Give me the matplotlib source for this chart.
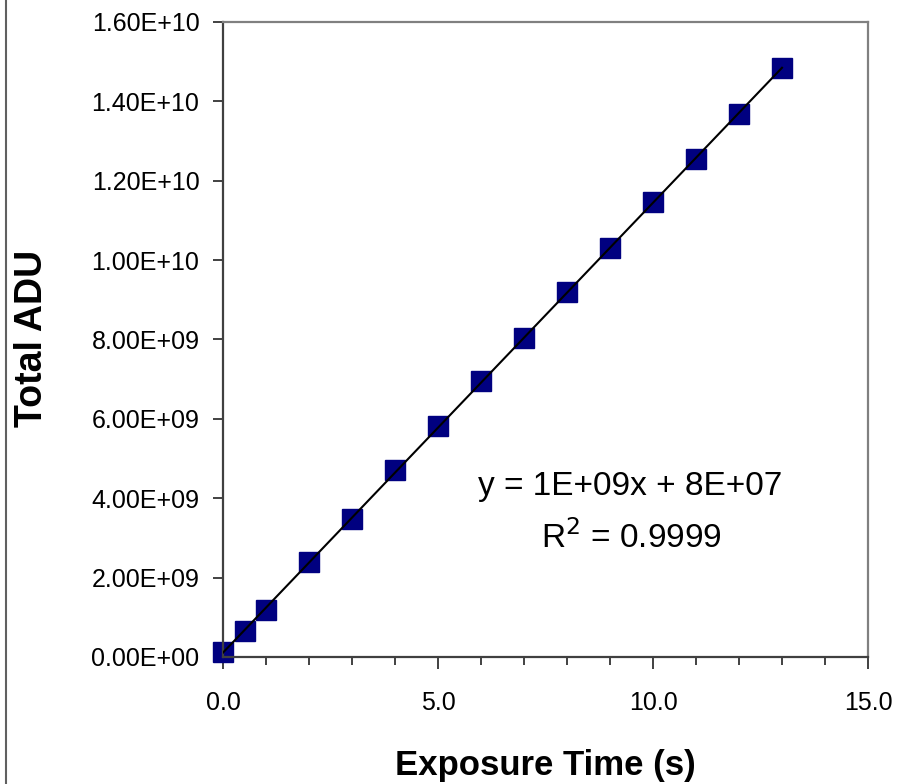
import numpy as np
import matplotlib
matplotlib.use('Agg')
import matplotlib.pyplot as plt
from matplotlib.lines import Line2D
from matplotlib.ticker import FuncFormatter, MultipleLocator

plt.rcParams['font.family'] = ['Liberation Sans', 'DejaVu Sans']

# exposure time (s) and total ADU
exposure = [0, 0.5, 1, 2, 3, 4, 5, 6, 7, 8, 9, 10, 11, 12, 13]
total_adu = [0.12e9, 0.65e9, 1.18e9, 2.39e9, 3.48e9, 4.71e9, 5.82e9, 6.95e9,
             8.04e9, 9.20e9, 10.30e9, 11.47e9, 12.55e9, 13.67e9, 14.85e9]
eq_text = 'y = 1E+09x + 8E+07'
r2_text = 'R$^2$ = 0.9999'

fig = plt.figure(figsize=(9.13, 7.84), dpi=100)
ax = fig.add_axes([223 / 913, 1 - 657 / 784, 645 / 913, 635 / 784])

# linear trendline like Excel, over the data range
k, b = np.polyfit(exposure, total_adu, 1)
xs = np.array([exposure[0], exposure[-1]])
ax.plot(xs, k * xs + b, color='black', lw=1.5, zorder=3)
ax.plot(exposure, total_adu, ls='none', marker='s', ms=15,
        mfc='#000080', mec='#000080', zorder=2, clip_on=False)

ax.set_xlim(0, 15)
ax.set_ylim(0, 1.6e10)
ax.xaxis.set_major_locator(MultipleLocator(5))
ax.xaxis.set_minor_locator(MultipleLocator(1))
ax.yaxis.set_major_locator(MultipleLocator(2e9))
ax.xaxis.set_major_formatter(FuncFormatter(lambda v, p: f'{v:.1f}'))
ax.yaxis.set_major_formatter(FuncFormatter(lambda v, p: f'{v:.2E}'))

ax.tick_params(axis='x', which='major', direction='out', length=8.5, width=1.3,
               color='#333333', labelsize=18, pad=16)
ax.tick_params(axis='x', which='minor', direction='out', length=6, width=1.3,
               color='#333333')
ax.tick_params(axis='y', which='major', direction='out', length=7, width=1.3,
               color='#333333', labelsize=18, pad=10)

for s in ('left', 'bottom'):
    ax.spines[s].set_color('#404040')
    ax.spines[s].set_linewidth(1.6)
for s in ('top', 'right'):
    ax.spines[s].set_color('#808080')
    ax.spines[s].set_linewidth(1.6)

fig.text(545 / 913, 1 - 765 / 784, 'Exposure Time (s)', fontsize=25,
         fontweight='bold', ha='center', va='center')
fig.text(32 / 913, 1 - 338 / 784, 'Total ADU', fontsize=27, fontweight='bold',
         rotation=90, ha='center', va='center')

fig.text(630 / 913, 1 - 487 / 784, eq_text, fontsize=24, ha='center', va='center')
fig.text(631 / 913, 1 - 538 / 784, r2_text, fontsize=24, ha='center', va='center')

# chart area border on the left edge
fig.add_artist(Line2D([6 / 913, 6 / 913], [0, 1], color='#606060', lw=1.5))

fig.savefig('out.png', dpi=100)
